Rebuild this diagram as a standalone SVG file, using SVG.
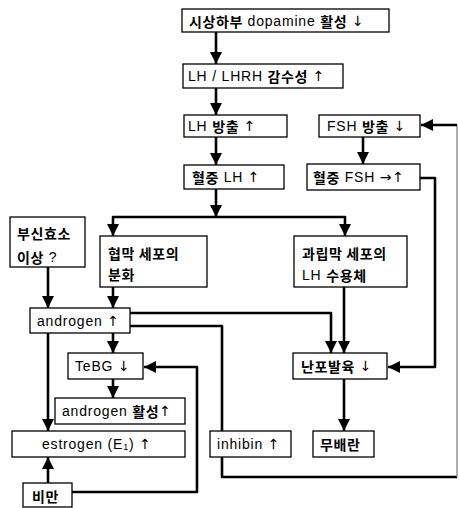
<svg xmlns="http://www.w3.org/2000/svg" width="459" height="508" viewBox="0 0 459 508">
<style>
.box{fill:#fff;stroke:#000;stroke-width:1.3}
.t{font-family:"Liberation Sans","Noto Sans CJK KR",sans-serif;font-size:14px;fill:#000;dominant-baseline:central;letter-spacing:0.8px}
.k{font-family:"Noto Sans CJK KR",sans-serif;font-weight:700;letter-spacing:0.6px}
.ar{font-family:"DejaVu Sans",sans-serif;font-size:14px}
.c{fill:none;stroke:#000;stroke-width:2.6;stroke-linejoin:round}
.a{marker-end:url(#ah)}
.thin{fill:none;stroke:#777;stroke-width:1.2}
</style>
<defs>
<marker id="ah" markerUnits="userSpaceOnUse" markerWidth="12" markerHeight="12" refX="12" refY="6" orient="auto" viewBox="0 0 12 12">
<path d="M0,0 L12,6 L0,12 z" fill="#000"/>
</marker>
</defs>
<rect width="459" height="508" fill="#fff"/>
<g id="connectors">
<path class="c a" d="M216,32 V64"/>
<path class="c a" d="M216,88 V115"/>
<path class="c a" d="M216,137 V165"/>
<path class="c a" d="M216,189 V217"/>
<path class="c a" d="M216,217 H113 V236"/>
<path class="c a" d="M216,217 H345 V236"/>
<path class="c a" d="M363,137 V164"/>
<path class="c a" d="M420,178 H435 V367 H388"/>
<path class="c a" d="M48,267 V308"/>
<path class="c a" d="M113,287 V308"/>
<path class="c a" d="M344,287 V353"/>
<path class="c a" d="M130,313 H331 V353"/>
<path class="c" d="M130,326 H222 V431"/>
<path class="c a" d="M113,333 V353"/>
<path class="c a" d="M113,379 V398"/>
<path class="c a" d="M48,333 V431"/>
<path class="c a" d="M48,483 V457"/>
<path class="c a" d="M72,492 H197 V367 H144"/>
<path class="c a" d="M344,379 V431"/>
<path class="c" d="M222,457 V477 H457"/>
<path class="thin" d="M457,477 V125"/>
<path class="c a" d="M457,125 H421"/>
</g>
<g id="n1"><rect class="box" x="182" y="9" width="207" height="23"/><text class="t" x="189" y="21"><tspan class="k">시상하부</tspan> dopamine <tspan class="k">활성</tspan> <tspan class="ar">↓</tspan></text></g>
<g id="n2"><rect class="box" x="183" y="64" width="160" height="24"/><text class="t" x="188" y="76">LH / LHRH <tspan class="k">감수성</tspan> <tspan class="ar">↑</tspan></text></g>
<g id="n3"><rect class="box" x="184" y="115" width="103" height="22"/><text class="t" x="188" y="126">LH <tspan class="k">방출</tspan> <tspan class="ar">↑</tspan></text></g>
<g id="n4"><rect class="box" x="319" y="115" width="101" height="22"/><text class="t" x="327" y="126">FSH <tspan class="k">방출</tspan> <tspan class="ar">↓</tspan></text></g>
<g id="n5"><rect class="box" x="184" y="165" width="100" height="24"/><text class="t" x="192" y="177"><tspan class="k">혈중</tspan> LH <tspan class="ar">↑</tspan></text></g>
<g id="n6"><rect class="box" x="307" y="164" width="113" height="26"/><text class="t" x="313" y="177"><tspan class="k">혈중</tspan> FSH <tspan class="ar">→↑</tspan></text></g>
<g id="n7"><rect class="box" x="10" y="217" width="75" height="50"/><text class="t" x="17" y="233"><tspan class="k">부신효소</tspan></text><text class="t" x="17" y="257"><tspan class="k">이상</tspan> ?</text></g>
<g id="n8"><rect class="box" x="100" y="236" width="107" height="51"/><text class="t" x="108" y="253"><tspan class="k">협막 세포의</tspan></text><text class="t" x="108" y="274"><tspan class="k">분화</tspan></text></g>
<g id="n9"><rect class="box" x="294" y="236" width="113" height="51"/><text class="t" x="302" y="253"><tspan class="k">과립막 세포의</tspan></text><text class="t" x="302" y="275">LH <tspan class="k">수용체</tspan></text></g>
<g id="n10"><rect class="box" x="30" y="308" width="100" height="25"/><text class="t" x="37" y="321">androgen <tspan class="ar">↑</tspan></text></g>
<g id="n11"><rect class="box" x="68" y="353" width="75" height="26"/><text class="t" x="75" y="366">TeBG <tspan class="ar">↓</tspan></text></g>
<g id="n12"><rect class="box" x="293" y="353" width="94" height="26"/><text class="t" x="301" y="366"><tspan class="k">난포발육</tspan> <tspan class="ar">↓</tspan></text></g>
<g id="n13"><rect class="box" x="55" y="398" width="130" height="26"/><text class="t" x="62" y="411">androgen <tspan class="k">활성</tspan><tspan class="ar">↑</tspan></text></g>
<g id="n14"><rect class="box" x="12" y="431" width="173" height="26"/><text class="t" x="42" y="444">estrogen (E<tspan font-size="9" dy="3">1</tspan><tspan dy="-3">) </tspan><tspan class="ar">↑</tspan></text></g>
<g id="n15"><rect class="box" x="210" y="431" width="81" height="26"/><text class="t" x="217" y="444">inhibin <tspan class="ar">↑</tspan></text></g>
<g id="n16"><rect class="box" x="313" y="431" width="61" height="26"/><text class="t" x="320" y="444"><tspan class="k">무배란</tspan></text></g>
<g id="n17"><rect class="box" x="23" y="483" width="49" height="24"/><text class="t" x="32" y="496"><tspan class="k">비만</tspan></text></g>
</svg>
